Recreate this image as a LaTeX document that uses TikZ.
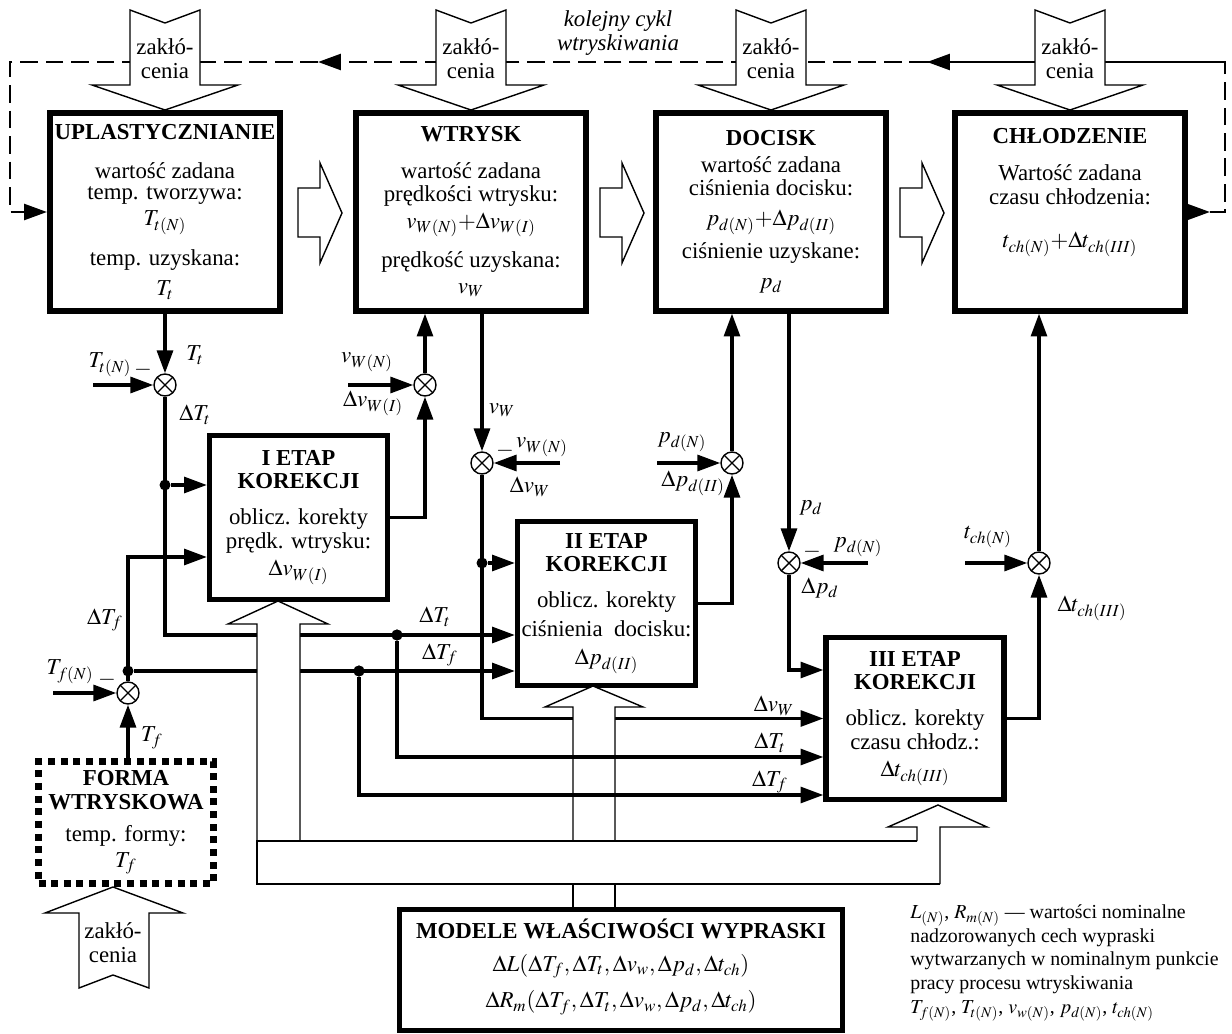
\documentclass[tikz,border=0pt]{standalone}
\usepackage{mathptmx}
\usepackage{fontspec}
\setmainfont{Liberation Serif}
\usepackage{tikz}
\usetikzlibrary{positioning,calc,arrows.meta}

\newcommand{\fs}{\fontsize{13}{13.5}\selectfont}

\tikzset{
	blok/.style={draw, line width=3pt, fill=white, align=center, inner sep=0pt, font=\fs},
	topblok/.style={blok, minimum width=4.6cm, minimum height=3.96cm},
	etap/.style={blok, minimum width=3.56cm, minimum height=3.28cm},
	formablok/.style={draw, line width=4pt, dash pattern=on 4pt off 3.2pt, align=center, inner sep=0pt, font=\fs, minimum width=3.5cm, minimum height=2.44cm},
	sig/.style={line width=2pt},
	fbk/.style={line width=1.6pt, dash pattern=on 10pt off 4.5pt},
	hollow/.style={draw, line width=0.8pt, fill=white},
	thinline/.style={line width=0.8pt},
	sumnode/.style={circle, draw, line width=0.8pt, fill=white, minimum size=0.44cm, inner sep=0pt,
		path picture={\draw[line width=0.8pt] (path picture bounding box.north west) -- (path picture bounding box.south east)
			(path picture bounding box.north east) -- (path picture bounding box.south west);}},
	dot/.style={circle, fill, minimum size=0.22cm, inner sep=0pt},
	lbl/.style={inner sep=0pt, font=\fs},
	>={Triangle[length=13pt,width=9pt]}
}

\begin{document}
\begin{tikzpicture}[x=0.02cm,y=-0.02cm]
	\useasboundingbox (0,0) rectangle (1232,1034);
	
	% feedback: kolejny cykl
	\coordinate (fbRa) at (1210,212);
	\coordinate (fbR) at (1225,212);
	\coordinate (fbRT) at (1225,62);
	\coordinate (fbM2) at (927,62);
	\coordinate (fbM1) at (318,62);
	\coordinate (fbLT) at (10,62);
	\coordinate (fbL) at (10,212);
	\draw[fbk] (fbRa) -- (fbR) -- (fbRT) -- (fbM2);
	\draw[fbk,->] (fbRT) -- (fbM2);
	\draw[fbk,->] (fbM2) -- (fbM1);
	\draw[fbk,->] (fbM1) -- (fbLT) -- (fbL) -- (47,212);
	\node[lbl, align=center, font=\fs\itshape] (cykl) at (618,33) {kolejny cykl\\[0.5pt] wtryskiwania};
	
	% zaklocenia od gory
	\foreach \cx in {165,471,771,1070}{
		\draw[hollow] (\cx-35,10) -- (\cx,23) -- (\cx+35,10) -- (\cx+35,85) -- (\cx+73,85) -- (\cx,110) -- (\cx-73,85) -- (\cx-35,85) -- cycle;
		\node[lbl, align=center] (zak\cx) at (\cx,59) {zakłó-\\cenia};
	}
	
	% przejscia miedzy fazami
	\foreach \ax in {298,600,900}{
		\draw[hollow] (\ax,188) -- (\ax+22,188) -- (\ax+22,163) -- (\ax+44,213) -- (\ax+22,263) -- (\ax+22,237) -- (\ax,237) -- cycle;
	}
	
	% fazy procesu
	\node[topblok] (upl) at (165,212) {\textbf{UPLASTYCZNIANIE}\\[8.5pt] wartość zadana\\[-1.5pt] temp. tworzywa:\\[1.5pt] $T_{t(N)}$\\[7.5pt] temp. uzyskana:\\[3.5pt] $T_t$};
	\node[topblok] (wtr) at (471,212) {\textbf{WTRYSK}\\[7.5pt] wartość zadana\\[-0.5pt] prędkości wtrysku:\\[1.5pt] $v_{W(N)}{+}\Delta v_{W(I)}$\\[7pt] prędkość uzyskana:\\[1.5pt] $v_W$};
	\node[topblok] (doc) at (771,212) {\textbf{DOCISK}\\[1.5pt] wartość zadana\\ ciśnienia docisku:\\[3.5pt] $p_{d(N)}{+}\Delta p_{d(II)}$\\[3.5pt] ciśnienie uzyskane:\\[3.5pt] $p_d$};
	\node[topblok] (chl) at (1070,212) {\textbf{CHŁODZENIE}\\[7.5pt] Wartość zadana\\ czasu chłodzenia:\\[11pt] $t_{ch(N)}{+}\Delta t_{ch(III)}$\\[14pt]\mbox{}};
	\draw[fbk,->] (chl.east) -- (fbRa);
	
	% etapy korekcji
	\node[etap] (et1) at (298.5,517.5) {\textbf{I ETAP}\\ \textbf{KOREKCJI}\\[7pt] oblicz. korekty\\ prędk. wtrysku:\\[2pt] $\Delta v_{W(I)}$};
	\node[etap] (et2) at (606.5,603.5) {\textbf{II ETAP}\\ \textbf{KOREKCJI}\\[7pt] oblicz. korekty\\[3pt] ciśnienia~~docisku:\\[2.5pt] $\Delta p_{d(II)}$};
	\node[etap, minimum height=3.24cm] (et3) at (915,718.5) {\textbf{III ETAP}\\ \textbf{KOREKCJI}\\[7pt] oblicz. korekty\\ czasu chłodz.:\\[2pt] $\Delta t_{ch(III)}$};
	
	\node[formablok] (forma) at (126,822.5) {\textbf{FORMA}\\ \textbf{WTRYSKOWA}\\[4.5pt] temp. formy:\\[1.5pt] $T_f$};
	\node[blok, minimum width=8.86cm, minimum height=2.42cm] (mod) at (621,970) {\textbf{MODELE WŁAŚCIWOŚCI WYPRASKI}\\[5pt] $\Delta L(\Delta T_f,\Delta T_t,\Delta v_w,\Delta p_d,\Delta t_{ch})$\\[6pt] $\Delta R_m(\Delta T_f,\Delta T_t,\Delta v_w,\Delta p_d,\Delta t_{ch})$\\[-6pt]\mbox{}};
	
	% wezly sumujace
	\node[sumnode] (s1) at (165,385) {};
	\node[sumnode] (s2) at (425,385) {};
	\node[sumnode] (s3) at (128,693) {};
	\node[sumnode] (s4) at (482,463) {};
	\node[sumnode] (s5) at (732,463) {};
	\node[sumnode] (s6) at (789,563) {};
	\node[sumnode] (s7) at (1039,563) {};
	
	% punkty rozgalezien
	\node[dot] (d1) at (165,485) {};
	\node[dot] (d2) at (397,635) {};
	\node[dot] (d3) at (128,671) {};
	\node[dot] (d4) at (359,671) {};
	\node[dot] (d5) at (482,563) {};
	
	\coordinate (inTt) at (93,385);
	\coordinate (invW) at (348,385);
	\coordinate (inTf) at (53,693);
	\coordinate (invW2) at (560,463);
	\coordinate (inpd) at (657,463);
	\coordinate (inpd2) at (868,563);
	\coordinate (intch) at (965,563);
	\coordinate (cTf) at (128,557);
	\coordinate (cTt3) at (397,757);
	\coordinate (cTf3) at (359,795);
	\coordinate (cPd) at (789,670);
	
	% sygnaly
	\draw[sig,->] (upl.south) -- (s1);
	\draw[sig,->] (inTt) -- (s1);
	\draw[sig,->] (s1) |- (et2.west |- d2);
	\draw[sig,->] (d1) -- (d1 -| et1.west);
	\draw[sig,->] (s3 |- forma.north) -- (s3);
	\draw[sig,->] (inTf) -- (s3);
	\draw[sig,->] (s3) -- (cTf) -- (cTf -| et1.west);
	\draw[sig,->] (d3) -- (d3 -| et2.west);
	\draw[sig,->] (et1.east) -| (s2);
	\draw[sig,->] (invW) -- (s2);
	\draw[sig,->] (s2) -- (s2 |- wtr.south);
	\draw[sig,->] (s4 |- wtr.south) -- (s4);
	\draw[sig,->] (invW2) -- (s4);
	\draw[sig,->] (s4) |- (et3.west);
	\draw[sig,->] (d5) -- (d5 -| et2.west);
	\draw[sig,->] (et2.east) -| (s5);
	\draw[sig,->] (inpd) -- (s5);
	\draw[sig,->] (s5) -- (s5 |- doc.south);
	\draw[sig,->] (s6 |- doc.south) -- (s6);
	\draw[sig,->] (inpd2) -- (s6);
	\draw[sig,->] (s6) -- (cPd) -- (cPd -| et3.west);
	\draw[sig,->] (et3.east) -| (s7);
	\draw[sig,->] (intch) -- (s7);
	\draw[sig,->] (s7) -- (s7 |- chl.south);
	
	% magistrala od modeli
	\draw[hollow] (257,841) -- (257,624) -- (228,624) -- (278,601) -- (328,624) -- (300,624) -- (300,841);
	\draw[hollow] (573,841) -- (573,707) -- (545,707) -- (593,686) -- (643,707) -- (615,707) -- (615,841);
	\draw[hollow] (917,841) -- (917,827) -- (888,827) -- (938,805) -- (987,827) -- (940,827) -- (940,884);
	\draw[thinline] (917,841) -- (257,841) -- (257,884) -- (940,884);
	\draw[thinline] (573,884) -- (573,907) (615,884) -- (615,907);
	
	\draw[sig,->] (d2) -- (cTt3) -- (cTt3 -| et3.west);
	\draw[sig,->] (d4) -- (cTf3) -- (cTf3 -| et3.west);
	\node[dot] at (d2) {};
	\node[dot] at (d4) {};
	
	% zaklocenia formy
	\draw[hollow] (79,988) -- (113,975) -- (149,988) -- (149,913) -- (183,913) -- (113,887) -- (45,913) -- (79,913) -- cycle;
	\node[lbl, align=center] (zakF) at (113,943) {zakłó-\\cenia};
	
	% opisy sygnalow
	\node[lbl] (lTt) at (195,355) {$T_t$};
	\node[lbl] (lTtN) at (110,365) {$T_{t(N)}$};
	\node[lbl] (m1) at (143,370) {$-$};
	\node[lbl] (lDTt) at (195,415) {$\Delta T_t$};
	\node[lbl] (lvWN) at (367,362) {$v_{W(N)}$};
	\node[lbl] (lDvWI) at (373,403) {$\Delta v_{W(I)}$};
	\node[lbl] (lvW) at (502,410) {$v_W$};
	\node[lbl] (m4) at (505,451) {$-$};
	\node[lbl] (lvWN2) at (542,447) {$v_{W(N)}$};
	\node[lbl] (lDvW) at (530,487) {$\Delta v_W$};
	\node[lbl] (lpdN) at (682,442) {$p_{d(N)}$};
	\node[lbl] (lDpdII) at (693,483) {$\Delta p_{d(II)}$};
	\node[lbl] (lpd) at (811,508) {$p_d$};
	\node[lbl] (m6) at (812,552) {$-$};
	\node[lbl] (lpdN2) at (858,547) {$p_{d(N)}$};
	\node[lbl] (lDpd) at (820,588) {$\Delta p_d$};
	\node[lbl] (ltchN) at (988,537) {$t_{ch(N)}$};
	\node[lbl] (lDtch) at (1092,608) {$\Delta t_{ch(III)}$};
	\node[lbl] (lTfN) at (70,672) {$T_{f(N)}$};
	\node[lbl] (m3) at (107,680) {$-$};
	\node[lbl] (lTf) at (152,738) {$T_f$};
	\node[lbl] (lDTf) at (105,620) {$\Delta T_f$};
	\node[lbl] (lDTt2) at (435,617) {$\Delta T_t$};
	\node[lbl] (lDTf2) at (440,655) {$\Delta T_f$};
	\node[lbl] (lDvW3) at (774,706) {$\Delta v_W$};
	\node[lbl] (lDTt3) at (770,743) {$\Delta T_t$};
	\node[lbl] (lDTf3) at (770,782) {$\Delta T_f$};
	
	% legenda
	\node[lbl, anchor=north west, align=left, font=\fontsize{11.3}{13.6}\selectfont] (leg) at (910,904) {$L_{(N)}$, $R_{m(N)}$ --- wartości nominalne\\ nadzorowanych cech wypraski\\ wytwarzanych w nominalnym punkcie\\ pracy procesu wtryskiwania\\ $T_{f(N)}$, $T_{t(N)}$, $v_{w(N)}$, $p_{d(N)}$, $t_{ch(N)}$};
\end{tikzpicture}
\end{document}
